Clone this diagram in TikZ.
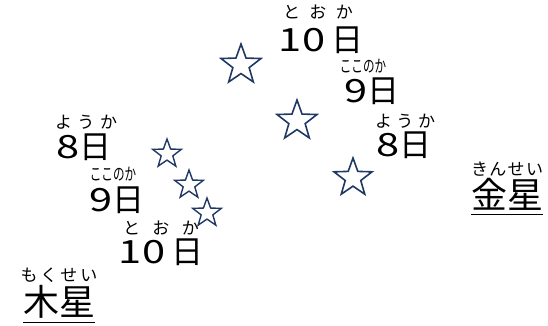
\documentclass[tikz,border=0pt]{standalone}
\usepackage{fontspec}
\usepackage{graphicx}
\setmainfont{Noto Sans CJK JP}
\usetikzlibrary{shapes.geometric}
\definecolor{navy}{RGB}{31,56,100}
\newcommand{\rb}[2]{\makebox[#1][s]{#2}}
\newcommand{\dg}[1]{\scalebox{1.3}[1]{#1}}
\newcommand{\cnd}[1]{\scalebox{0.68}[1]{#1}}
\tikzset{
  starbig/.style={star, star points=5, star point ratio=2.45, draw=navy, line width=1.6pt, minimum size=42pt, inner sep=0pt},
  starsmall/.style={starbig, minimum size=30pt, line width=1.4pt},
  ruby/.style={font=\fontsize{17}{17}\selectfont, inner sep=0pt},
  big/.style={font=\fontsize{32}{32}\selectfont, inner sep=0pt},
  planet/.style={font=\fontsize{36}{36}\selectfont, inner sep=0pt},
  uline/.style={line width=1.2pt}
}
\begin{document}
\begin{tikzpicture}[x=1pt,y=-1pt]
\useasboundingbox (0,0) rectangle (548,326);
% top sequence
\node[ruby] (r1) at (318,12) {\rb{70pt}{と\hfill お\hfill か}};
\node[big] (b1) at (321,40) {\dg{1}\dg{0}\hspace{6pt}日};
\node[ruby] (r2) at (363,66) {\cnd{ここのか}};
\node[big] (b2) at (372,91) {\dg{9}日};
\node[ruby] (r3) at (405,121) {\rb{60pt}{よ\hfill う\hfill か}};
\node[big] (b3) at (404,145) {\dg{8}日};
\node[ruby] (r4) at (507,169) {\rb{72pt}{き\hfill ん\hfill せ\hfill い}};
\node[planet] (kin) at (507,194) {金星};
\draw[uline] ([yshift=-4pt]kin.south west) -- ([yshift=-4pt]kin.south east);
% left sequence
\node[ruby] (r5) at (86,122) {\rb{62pt}{よ\hfill う\hfill か}};
\node[big] (b5) at (84,147) {\dg{8}日};
\node[ruby] (r6) at (113,174) {\cnd{ここのか}};
\node[big] (b6) at (117,200) {\dg{9}日};
\node[ruby] (r7) at (161,228) {\rb{76pt}{と\hfill お\hfill か}};
\node[big] (b7) at (161,252) {\dg{1}\dg{0}\hspace{6pt}日};
\node[ruby] (r8) at (59,275) {\rb{77pt}{も\hfill く\hfill せ\hfill い}};
\node[planet] (moku) at (59,302) {木星};
\draw[uline] ([yshift=-4pt]moku.south west) -- ([yshift=-4pt]moku.south east);
% stars
\node[starbig] (s1) at (241,65) {};
\node[starbig] (s2) at (297,121) {};
\node[starbig, minimum size=40pt] (s3) at (353,178) {};
\node[starsmall] (s4) at (167,154) {};
\node[starsmall] (s5) at (189,185) {};
\node[starsmall] (s6) at (207,213) {};
\end{tikzpicture}
\end{document}
